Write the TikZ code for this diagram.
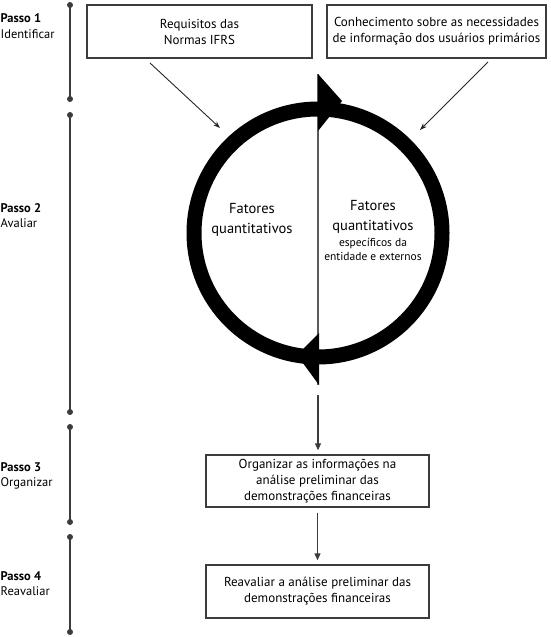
\documentclass[tikz,border=0pt]{standalone}
\usepackage{fontspec}
\setmainfont{PT Sans}
\usepackage{tikz}
\usetikzlibrary{arrows.meta,positioning,calc}
\definecolor{linegray}{RGB}{60,60,60}
\definecolor{midgray}{RGB}{90,90,90}

\begin{document}
\begin{tikzpicture}[x=1pt,y=-1pt,
  box/.style={draw=linegray,line width=1.4pt,minimum height=53pt,align=center,inner sep=2pt,
    font=\fontsize{13}{16}\selectfont},
  steplbl/.style={anchor=base west,inner sep=0pt,font=\fontsize{12.5}{15}\selectfont},
  tline/.style={draw=linegray,line width=1.4pt},
  tdot/.style={circle,fill=linegray,inner sep=0pt,minimum size=6pt},
  arr/.style={-{Stealth[length=7pt,width=5pt]},line width=0.9pt,color=black!85},
  vert/.style={-{Triangle[length=7pt,width=6pt]},line width=1.2pt,color=linegray,shorten >=4pt},
  bigtxt/.style={align=center,inner sep=0pt,font=\fontsize{14.5}{20}\selectfont},
  smalltxt/.style={align=center,inner sep=0pt,font=\fontsize{11.5}{14}\selectfont}]
  \useasboundingbox (0,0) rectangle (550,637);
  % timeline
  \foreach \ya/\yb in {5/99,115/412,427/522,537/632}{
    \draw[tline] (70,\ya)--(70,\yb);
    \node[tdot] at (70,\ya) {};
    \node[tdot] at (70,\yb) {};
  }
  \foreach \y/\n/\txt in {23/1/Identificar,212/2/Avaliar,471/3/Organizar,580/4/Reavaliar}{
    \node[steplbl] (passo\n) at (0.5,\y) {\textbf{Passo \n}};
    \node[steplbl] (nome\n) at (0.5,\y+15) {\txt};
  }
  % top boxes
  \node[box,minimum width=225pt] (req) at (199.5,31.5) {Requisitos das\\Normas IFRS};
  \node[box,minimum width=219pt] (con) at (436.5,31.5) {Conhecimento sobre as necessidades\\de informação dos usuários primários};
  \coordinate (reqa) at (150,63);
  \coordinate (reqb) at (220,128);
  \coordinate (cona) at (488,62);
  \coordinate (conb) at (420,130);
  \draw[arr] (reqa)--(reqb);
  \draw[arr] (cona)--(conb);
  % cycle
  \draw[midgray,line width=1.5pt] (318,74)--(318,385);
  \draw[black,line width=15pt] (318,233) circle[radius=124pt];
  \fill[black] (318,74)--(318,131)--(342,101)--cycle;
  \fill[black] (319,333)--(319,385)--(297,355)--cycle;
  \node[bigtxt] (fql) at (252,220) {Fatores\\quantitativos};
  \node[bigtxt] (fqr) at (373,217) {Fatores\\quantitativos};
  \node[smalltxt,below=4pt of fqr] (esp) {específicos da\\entidade e externos};
  % lower boxes
  \node[box,minimum width=223pt,minimum height=52pt] (org) at (317.5,481) {Organizar as informações na\\análise preliminar das\\demonstrações financeiras};
  \node[box,minimum width=223pt] (rea) at (317.5,591.5) {Reavaliar a análise preliminar das\\demonstrações financeiras};
  \coordinate (cyc) at (318,395);
  \draw[vert] (cyc)--(org.north -| cyc);
  \draw[vert] ([yshift=-5pt]org.south)--(rea.north);
\end{tikzpicture}
\end{document}
